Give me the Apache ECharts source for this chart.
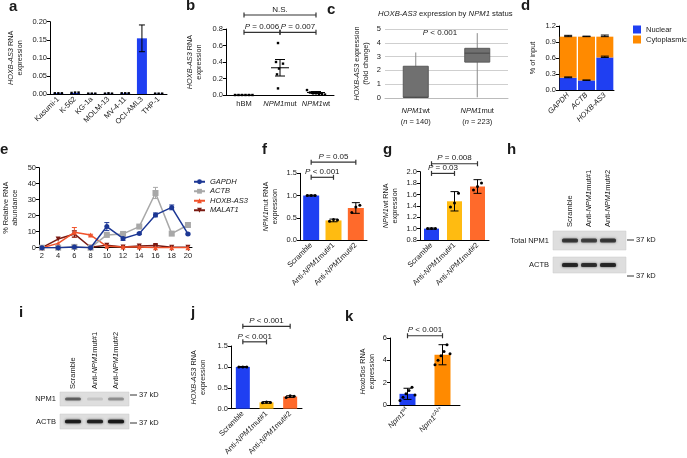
<!DOCTYPE html>
<html><head><meta charset="utf-8">
<script src="https://cdn.jsdelivr.net/npm/echarts@6/dist/echarts.min.js"></script>
<style>html,body{margin:0;padding:0;background:#fff}#c{width:687px;height:458px}</style>
</head><body><div id="c"></div>
<script>
// ---------------- DATA ----------------
// a
const aCats = ['Kasumi-1','K-562','KG-1a','MOLM-13','MV-4-11','OCI-AML3','THP-1'];
const aMean = [0.002,0.003,0.001,0.001,0.002,0.154,0.001];
const aErr  = [0,0,0,0,0,0.037,0];
const aDots = [[0.002,0.002,0.002],[0.003,0.004,0.004],[0.001,0.001,0.001],[0.001,0.002,0.001],[0.002,0.002,0.002],[],[0.001,0.001,0.001]];
// b
const bCats = ['hBM','{i|NPM1}mut','{i|NPM1}wt'];
const bDots = [[0,0,0,0,0,0],[0.63,0.40,0.38,0.32,0.25,0.08],[0.06,0.03,0.02,0.02,0.01,0.01,0.005]];
const bMean = [0,0.33,0.03];
const bSem  = [0,0.10,0.012];
const bBrackets = [[0,2,'N.S.'],[0,1,'{i|P} = 0.006'],[1,2,'{i|P} = 0.007']];
// c  [min, Q1, median, Q3, max]
const cCats = ['{i|NPM1}wt\n({i|n} = 140)','{i|NPM1}mut\n({i|n} = 223)'];
const cBox = [[0,0.05,0.05,2.3,3.3],[0.05,2.6,3.25,3.6,4.7]];
// d
const dCats = ['{i|GAPDH}','{i|ACTB}','{i|HOXB-AS3}'];
const dNuclear = [0.23,0.18,0.61];
const dCyto    = [0.77,0.82,0.39];
const dNucErr  = [0.015,0.008,0.025];
const dTotErr  = [0.025,0.01,0.03];
// e
const eX = [2,4,6,8,10,12,14,16,18,20];
const eGAPDH = [0,0,0.5,0,13.2,5.8,8.8,20.5,25.2,8.6];
const eGAPDHerr = [0,0,0.3,0,2.5,1.2,0.5,1.2,1.5,0.5];
const eACTB = [0,0,0.5,0,8,8.6,13.2,34.2,8.8,14.2];
const eACTBerr = [0,0,0.2,0,0.5,0.5,0.5,3.5,1,1.2];
const eHOX = [0,2.7,9.6,7.9,0.9,0.5,0.5,0,0,0];
const eHOXerr = [0,0,3,0.5,0.3,0,0,0,0,0];
const eMAL = [0,5.4,8.6,0.3,1.5,0.4,1,1.3,0.3,0.3];
const eMALerr = [0,0.3,2,0,0.3,0,0.3,0.8,0,0];
const eNames = ['GAPDH','ACTB','HOXB-AS3','MALAT1'];
// f
const kdCats = ['Scramble','Anti-{i|NPM1}mut#1','Anti-{i|NPM1}mut#2'];
const fMean = [1.0,0.44,0.72];
const fErr  = [0.01,0.03,0.12];
const fDots = [[1,1,1],[0.42,0.46,0.45],[0.62,0.74,0.78]];
const fBrackets = [[0,2,'{i|P} = 0.05'],[0,1,'{i|P} < 0.001']];
// g
const gMean = [1.0,1.48,1.74];
const gErr  = [0.01,0.17,0.12];
const gDots = [[1,1,1],[1.38,1.45,1.62],[1.68,1.74,1.80]];
const gBrackets = [[0,2,'{i|P} = 0.008'],[0,1,'{i|P} = 0.03']];
// j
const jMean = [1.0,0.15,0.29];
const jErr  = [0.01,0.02,0.02];
const jDots = [[1,1,1],[0.14,0.16,0.15],[0.27,0.31,0.30]];
const jBrackets = [[0,2,'{i|P} < 0.001'],[0,1,'{i|P} < 0.001']];
// k
const kCats = ['{i|Npm1}{sup|wt}','{i|Npm1}{sup|cA/+}'];
const kMean = [1.0,4.5];
const kErr  = [0.5,0.9];
const kDots = [[0.4,0.7,1.0,1.3,1.6,0.9],[3.6,4.0,4.4,4.8,5.4,4.6]];
const kBrackets = [[0,1,'{i|P} < 0.001']];
// blots
const laneLabels = ['Scramble','Anti-{i|NPM1}mut#1','Anti-{i|NPM1}mut#2'];
const hNPM1 = [0.75,0.7,0.75];
const hACTB = [0.85,0.8,0.85];
const iNPM1 = [0.55,0.12,0.35];
const iACTB = [0.95,0.9,1.0];

// ---------------- STYLE / HELPERS ----------------
const F = '"Liberation Sans", Arial, sans-serif';
const TXT = '#1a1a1a';
const FS = 7.5, NS = 7.3, BS = 8;
const BLUE = '#1f3ff2', YELLOW = '#ffbb11', ORANGE = '#ff6a2b', DORANGE = '#ff8a00';
const RICH = {
  i:{fontStyle:'italic',fontFamily:F,fontSize:FS,color:TXT},
  sup:{fontFamily:F,fontSize:5.5,color:TXT,padding:[0,0,5,0]}
};
const RICHN = {i:{fontStyle:'italic',fontFamily:F,fontSize:NS,color:TXT}};
const RICHB = {i:{fontStyle:'italic',fontFamily:F,fontSize:BS,color:TXT}};

const grids=[], xAxes=[], yAxes=[], series=[];
function panel(g,x,y){grids.push(g);const i=grids.length-1;x.gridIndex=i;y.gridIndex=i;xAxes.push(x);yAxes.push(y);return i;}
const blackLine = {lineStyle:{color:'#000',width:1}};
function catLabel(extra){return Object.assign({fontFamily:F,fontSize:FS,color:TXT,interval:0,margin:4,rich:RICH},extra||{});}
function catX(data,lab){return {type:'category',data,boundaryGap:true,axisLine:blackLine,axisTick:{show:false},axisLabel:catLabel(lab)};}
function valY(min,max,interval,dec,name,gap){return {type:'value',min,max,interval,
  axisLine:{show:true,lineStyle:{color:'#000',width:1}},axisTick:{show:true,length:3,lineStyle:{color:'#000'}},splitLine:{show:false},
  axisLabel:{fontFamily:F,fontSize:FS,color:TXT,margin:3,formatter:v=>v.toFixed(dec)},
  name,nameLocation:'middle',nameGap:gap,nameTextStyle:{fontFamily:F,fontSize:NS,color:TXT,lineHeight:9.5,rich:RICHN}};}

function errSeries(ai,items,capW,color,z){
  return {type:'custom',xAxisIndex:ai,yAxisIndex:ai,clip:false,silent:true,z:z||5,data:items,encode:{x:0,y:[1,2]},
    renderItem(p,api){const x=api.value(0),lo=api.value(1),hi=api.value(2);const a=api.coord([x,lo]),b=api.coord([x,hi]);
      const s={stroke:color||'#000',lineWidth:1};
      return {type:'group',children:[
        {type:'line',shape:{x1:a[0],y1:a[1],x2:b[0],y2:b[1]},style:s},
        {type:'line',shape:{x1:b[0]-capW/2,y1:b[1],x2:b[0]+capW/2,y2:b[1]},style:s},
        {type:'line',shape:{x1:a[0]-capW/2,y1:a[1],x2:a[0]+capW/2,y2:a[1]},style:s}]};}};
}
function dotSeries(ai,dots,spacing,r,shape,offFn){
  const data=[];dots.forEach((arr,c)=>arr.forEach((v,k)=>data.push([c,v,k,arr.length])));
  return {type:'custom',xAxisIndex:ai,yAxisIndex:ai,clip:false,silent:true,z:6,data,encode:{x:0,y:1},
    renderItem(p,api){const c=api.value(0),v=api.value(1),k=api.value(2),n=api.value(3);const pt=api.coord([c,v]);
      const dx=offFn?offFn(c,k,n):(k-(n-1)/2)*spacing;
      if(shape==='rect')return {type:'rect',shape:{x:pt[0]+dx-r,y:pt[1]-r,width:2*r,height:2*r},style:{fill:'#000'}};
      return {type:'circle',shape:{cx:pt[0]+dx,cy:pt[1],r},style:{fill:'#000'}};}};
}
function bracketSeries(ai,brackets,levels){
  const data=brackets.map((b,i)=>[b[0],b[1],levels[i]]);
  return {type:'custom',xAxisIndex:ai,yAxisIndex:ai,clip:false,silent:true,z:7,data,encode:{x:[0,1],y:2},
    renderItem(p,api){const a=api.coord([api.value(0),api.value(2)]),b=api.coord([api.value(1),api.value(2)]);
      const s={stroke:'#333',lineWidth:1.2};
      return {type:'group',children:[
        {type:'line',shape:{x1:a[0],y1:a[1],x2:b[0],y2:b[1]},style:s},
        {type:'line',shape:{x1:a[0],y1:a[1]-2.5,x2:a[0],y2:a[1]+2.5},style:s},
        {type:'line',shape:{x1:b[0],y1:b[1]-2.5,x2:b[0],y2:b[1]+2.5},style:s},
        {type:'text',x:(a[0]+b[0])/2,y:a[1]-1.5,style:{text:brackets[p.dataIndex][2],rich:RICHB,fontFamily:F,fontSize:BS,fill:TXT,
          align:'center',verticalAlign:'bottom',textAlign:'center',textVerticalAlign:'bottom'}}]};}};
}
function barSeries(ai,vals,colors,w){
  return {type:'bar',xAxisIndex:ai,yAxisIndex:ai,barWidth:w,silent:true,z:3,
    data:vals.map((v,i)=>({value:v,itemStyle:{color:colors[i%colors.length]}}))};
}
const errItems=(m,e)=>m.map((v,i)=>[i,v-e[i],v+e[i]]);

// ---------------- PANEL a ----------------
const A = panel({left:50,top:21.7,width:117,height:72.3},
  catX(aCats,{rotate:45}),
  valY(0,0.2,0.05,2,'{i|HOXB-AS3} RNA\nexpression',25));
series.push(barSeries(A,aMean,[BLUE],10));
series.push(errSeries(A,errItems(aMean,aErr).filter((d,i)=>aErr[i]>0),6));
series.push(dotSeries(A,aDots,3.5,1.2,'rect'));

// ---------------- PANEL b ----------------
const B = panel({left:226,top:29,width:108,height:66},
  catX(bCats,{margin:5}),
  valY(0,0.8,0.2,1,'{i|HOXB-AS3} RNA\nexpression',22));
const bJit=[[-9,-5.5,-2,1.5,5,8.5],[-2,-4,3,-1,-3,-2],[-9,-6,-3,0,3,6,9]];
series.push(dotSeries(B,bDots,0,1.2,'rect',(c,k)=>bJit[c][k]));
series.push({type:'custom',xAxisIndex:B,yAxisIndex:B,clip:false,silent:true,z:5,data:bMean.map((m,i)=>[i,m,bSem[i]]),encode:{x:0,y:1},
  renderItem(p,api){const i=api.value(0),m=api.value(1),s=api.value(2);const c=api.coord([i,m]),hi=api.coord([i,m+s]),lo=api.coord([i,m-s]);
    const st={stroke:'#000',lineWidth:1};const ch=[{type:'line',shape:{x1:c[0]-9,y1:c[1],x2:c[0]+9,y2:c[1]},style:st}];
    if(s>0){ch.push({type:'line',shape:{x1:c[0],y1:hi[1],x2:c[0],y2:lo[1]},style:st},
      {type:'line',shape:{x1:c[0]-5,y1:hi[1],x2:c[0]+5,y2:hi[1]},style:st},{type:'line',shape:{x1:c[0]-5,y1:lo[1],x2:c[0]+5,y2:lo[1]},style:st});}
    return {type:'group',children:ch};}});
series.push(bracketSeries(B,bBrackets,[0.97,0.76,0.76]));

// ---------------- PANEL c ----------------
const C = panel({left:385,top:29,width:123,height:69},
  {type:'category',data:cCats,boundaryGap:true,axisLine:{lineStyle:{color:'#bbb'}},axisTick:{show:false},
   axisLabel:catLabel({margin:7,lineHeight:11})},
  {type:'value',min:0,max:5,interval:1,axisLine:{show:false},axisTick:{show:false},splitLine:{lineStyle:{color:'#cfcfcf',width:1}},
   axisLabel:{fontFamily:F,fontSize:FS,color:TXT,margin:4},
   name:'{i|HOXB-AS3} expression\n(fold change)',nameLocation:'middle',nameGap:14,nameTextStyle:{fontFamily:F,fontSize:NS,color:TXT,lineHeight:9.5,rich:RICHN}});
series.push({type:'custom',xAxisIndex:C,yAxisIndex:C,clip:false,silent:true,z:4,
  data:cBox.map((b,i)=>[i].concat(b)),encode:{x:0,y:[1,2,3,4,5]},
  renderItem(p,api){const i=api.value(0);const P=k=>api.coord([i,api.value(k)]);
    const mn=P(1),q1=P(2),md=P(3),q3=P(4),mx=P(5);const hw=12.5;
    return {type:'group',children:[
      {type:'line',shape:{x1:mn[0],y1:mn[1],x2:mx[0],y2:mx[1]},style:{stroke:'#8a8a8a',lineWidth:1}},
      {type:'rect',shape:{x:q3[0]-hw,y:q3[1],width:2*hw,height:q1[1]-q3[1]},style:{fill:'#707070',stroke:'#5a5a5a',lineWidth:1}},
      {type:'line',shape:{x1:md[0]-hw,y1:md[1],x2:md[0]+hw,y2:md[1]},style:{stroke:'#474747',lineWidth:1}}]};}});

// ---------------- PANEL d ----------------
const D = panel({left:559,top:26,width:55,height:64},
  catX(dCats,{rotate:45}),
  valY(0,1.2,0.3,1,'% of input',21));
series.push({name:'Nuclear',type:'bar',stack:'d',xAxisIndex:D,yAxisIndex:D,barWidth:17,data:dNuclear,itemStyle:{color:BLUE},silent:true});
series.push({name:'Cytoplasmic',type:'bar',stack:'d',xAxisIndex:D,yAxisIndex:D,barWidth:17,data:dCyto,itemStyle:{color:DORANGE},silent:true});
series.push(errSeries(D,dNuclear.map((v,i)=>[i,v,v+dNucErr[i]]),8));
series.push(errSeries(D,dNuclear.map((v,i)=>[i,v+dCyto[i],v+dCyto[i]+dTotErr[i]]),8));

// ---------------- PANEL e ----------------
const E = panel({left:36,top:167.7,width:156,height:80},
  {type:'value',min:1.64,max:20.5,axisLine:blackLine,axisTick:{show:true,length:3,customValues:eX,lineStyle:{color:'#000'}},splitLine:{show:false},
   axisLabel:{fontFamily:F,fontSize:FS,color:TXT,margin:4,customValues:eX}},
  valY(0,50,10,0,'% Relative RNA\nabundance',19));
const eCols=['#1c3794','#a8a8a8','#f0522b','#7a1a12'];
const eSym=['circle','rect','triangle','triangle'];
const eRot=[0,0,0,180];
[eGAPDH,eACTB,eHOX,eMAL].forEach((arr,si)=>{
  series.push({name:eNames[si],type:'line',xAxisIndex:E,yAxisIndex:E,data:arr.map((v,i)=>[eX[i],v]),symbol:eSym[si],symbolRotate:eRot[si],
    symbolSize:si===1?6:5,lineStyle:{color:eCols[si],width:1.5},itemStyle:{color:eCols[si]},z:7-si,silent:true});
});
[[eGAPDH,eGAPDHerr],[eACTB,eACTBerr],[eHOX,eHOXerr],[eMAL,eMALerr]].forEach(([m,e],si)=>{
  series.push(errSeries(E,m.map((v,i)=>[eX[i],v-e[i],v+e[i]]).filter((d,i)=>e[i]>0.4),5,eCols[si],4));
});

// ---------------- PANEL f ----------------
const Fp = panel({left:300,top:173.3,width:67,height:66.7},
  catX(kdCats,{rotate:45}),
  valY(0,1.5,0.5,1,'{i|NPM1}mut RNA\nexpression',20));
series.push(barSeries(Fp,fMean,[BLUE,YELLOW,ORANGE],16));
series.push(errSeries(Fp,errItems(fMean,fErr),8));
series.push(dotSeries(Fp,fDots,4,1.5,'circle'));
series.push(bracketSeries(Fp,fBrackets,[1.75,1.41]));

// ---------------- PANEL g ----------------
const G = panel({left:420,top:171.7,width:69,height:68.3},
  catX(kdCats,{rotate:45}),
  valY(0.8,2.0,0.2,1,'{i|NPM1}wt RNA\nexpression',20));
series.push(barSeries(G,gMean,[BLUE,YELLOW,ORANGE],15));
series.push(errSeries(G,errItems(gMean,gErr),8));
series.push(dotSeries(G,gDots,4,1.5,'circle'));
series.push(bracketSeries(G,gBrackets,[2.14,1.97]));

// ---------------- PANEL j ----------------
const J = panel({left:231,top:346,width:71,height:63},
  catX(kdCats,{rotate:45}),
  valY(0,1.5,0.5,1,'{i|HOXB-AS3} RNA\nexpression',23));
series.push(barSeries(J,jMean,[BLUE,YELLOW,ORANGE],14));
series.push(errSeries(J,errItems(jMean,jErr),8));
series.push(dotSeries(J,jDots,4,1.5,'circle'));
series.push(bracketSeries(J,jBrackets,[1.97,1.6]));

// ---------------- PANEL k ----------------
const K = panel({left:390,top:338,width:70,height:67},
  catX(kCats,{rotate:45}),
  valY(0,6,2,0,'{i|Hoxb5os} RNA\nexpression',13));
series.push(barSeries(K,kMean,[BLUE,DORANGE],16));
series.push(errSeries(K,errItems(kMean,kErr),8));
series.push(dotSeries(K,kDots,3,1.5,'circle'));
series.push(bracketSeries(K,kBrackets,[6.2]));

// ---------------- GRAPHICS ----------------
const graphic=[];
function txt(x,y,text,o){o=o||{};graphic.push({type:'text',x,y,rotation:o.rot||0,silent:true,style:{text,rich:o.rich||RICH,fontFamily:F,
  fontSize:o.size||FS,fontWeight:o.bold?'bold':'normal',fill:TXT,align:o.align||'left',verticalAlign:o.va||'top',
  textAlign:o.align||'left',textVerticalAlign:o.va||'top'}});}
[['a',9,-1],['b',186,-2],['c',327,2],['d',521,-2],['e',0,142],['f',262,142],['g',383,142],['h',507,142],['i',19,305],['j',191,305],['k',345,309]]
  .forEach(([l,x,y])=>txt(x,y,l,{size:15,bold:true}));
txt(378,10,'{i|HOXB-AS3} expression by {i|NPM1} status',{size:7.7,rich:{i:{fontStyle:'italic',fontFamily:F,fontSize:7.7,color:TXT}}});
txt(440,33,'{i|P} < 0.001',{size:BS,rich:RICHB,align:'center',va:'middle'});

function blot(cfg){
  cfg.lanes.forEach((lx,li)=>graphic.push({type:'text',x:lx,y:cfg.labelBottom,rotation:Math.PI/2,silent:true,
    style:{text:laneLabels[li],rich:RICH,fontFamily:F,fontSize:FS,fill:TXT,align:'left',verticalAlign:'middle',textAlign:'left',textVerticalAlign:'middle'}}));
  cfg.rows.forEach(r=>{
    graphic.push({type:'rect',silent:true,shape:{x:cfg.boxX,y:r.y,width:cfg.boxW,height:r.h},style:{fill:'#dedede',stroke:'#cacaca',lineWidth:0.5}});
    r.intens.forEach((v,li)=>graphic.push({type:'rect',silent:true,shape:{x:cfg.lanes[li]-r.bw/2,y:r.y+r.h/2-r.bh/2,width:r.bw,height:r.bh,r:1.5},
      style:{fill:'rgba(25,25,25,'+v+')',shadowBlur:2.5,shadowColor:'rgba(25,25,25,'+v+')'}}));
    txt(cfg.boxX-4,r.y+r.h/2,r.name,{align:'right',va:'middle'});
    graphic.push({type:'line',silent:true,shape:{x1:cfg.boxX+cfg.boxW+1,y1:r.kd,x2:cfg.boxX+cfg.boxW+8,y2:r.kd},style:{stroke:'#333',lineWidth:1}});
    txt(cfg.boxX+cfg.boxW+10,r.kd,'37 kD',{va:'middle'});
  });
}
blot({lanes:[570,589,608],labelBottom:227,boxX:553,boxW:73,rows:[
  {name:'Total NPM1',y:231,h:19,bw:16,bh:4,intens:hNPM1,kd:240},
  {name:'ACTB',y:257,h:16,bw:16,bh:4,intens:hACTB,kd:276}]});
blot({lanes:[73,95,116],labelBottom:389,boxX:60,boxW:69,rows:[
  {name:'NPM1',y:392,h:14,bw:16,bh:3,intens:iNPM1,kd:395},
  {name:'ACTB',y:414,h:15,bw:16,bh:3.5,intens:iACTB,kd:423}]});

const option={animation:false,textStyle:{fontFamily:F},grid:grids,xAxis:xAxes,yAxis:yAxes,series,graphic,
  legend:[
    {data:['Nuclear','Cytoplasmic'],left:633,top:25,padding:0,orient:'vertical',itemWidth:8,itemHeight:8,itemGap:1,icon:'rect',selectedMode:false,
     textStyle:{fontFamily:F,fontSize:7.5,color:TXT,lineHeight:9}},
    {data:eNames,left:193,top:177,padding:0,orient:'vertical',itemWidth:11,itemHeight:6,itemGap:0,selectedMode:false,
     textStyle:{fontFamily:F,fontSize:7.5,fontStyle:'italic',color:TXT,lineHeight:9.5}}
  ]};
echarts.init(document.getElementById('c')).setOption(option);
</script></body></html>
